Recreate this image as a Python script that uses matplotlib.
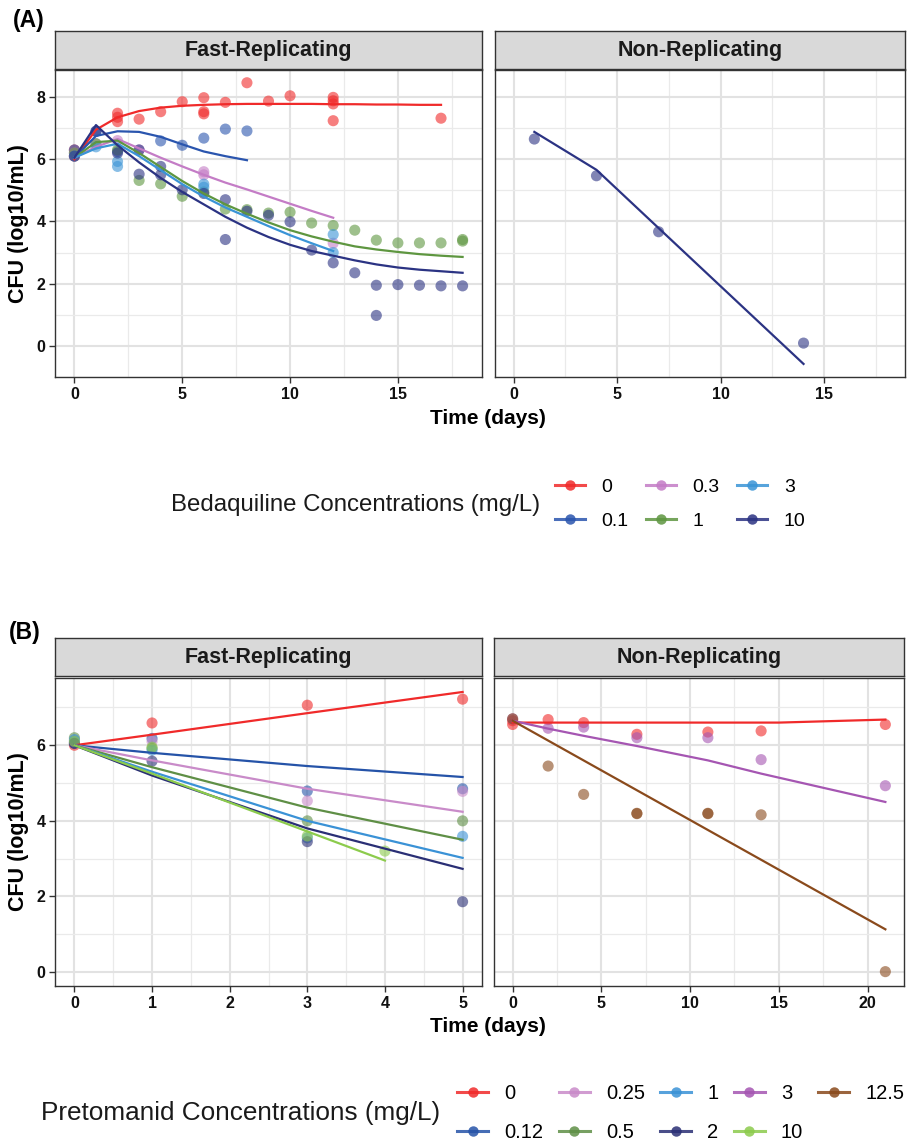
import matplotlib
matplotlib.use("Agg")
import matplotlib.pyplot as plt
from matplotlib.lines import Line2D

plt.rcParams['font.family'] = ['Liberation Sans', 'DejaVu Sans']

# ---------------- (A) Bedaquiline ----------------
bdq_conc = ["0", "0.1", "0.3", "1", "3", "10"]

# fast-replicating observations
bdq_fr_obs_days_0 = [0, 0, 2, 2, 2, 3, 4, 5, 6, 6, 6, 7, 8, 9, 10, 12, 12, 12, 12, 17]
bdq_fr_obs_cfu_0 = [6.1, 6.3, 7.48, 7.35, 7.21, 7.29, 7.53, 7.85, 7.98, 7.53, 7.46, 7.83, 8.46, 7.87, 8.04, 7.99, 7.88, 7.78, 7.24, 7.32]
bdq_fr_obs_days_01 = [0, 1, 2, 4, 5, 6, 7, 8]
bdq_fr_obs_cfu_01 = [6.3, 6.9, 6.25, 6.59, 6.45, 6.68, 6.97, 6.91]
bdq_fr_obs_days_03 = [0, 1, 2, 3, 6, 6, 12]
bdq_fr_obs_cfu_03 = [6.2, 6.5, 6.6, 6.3, 5.6, 5.5, 3.3]
bdq_fr_obs_days_1 = [0, 1, 2, 3, 4, 5, 6, 7, 8, 9, 10, 11, 12, 13, 14, 15, 16, 17, 18, 18]
bdq_fr_obs_cfu_1 = [6.2, 6.5, 6.3, 5.32, 5.21, 4.81, 4.95, 4.4, 4.38, 4.27, 4.3, 3.95, 3.87, 3.72, 3.4, 3.31, 3.31, 3.31, 3.37, 3.42]
bdq_fr_obs_days_3 = [0, 1, 2, 2, 6, 6, 12, 12]
bdq_fr_obs_cfu_3 = [6.1, 6.4, 5.93, 5.77, 5.2, 5.1, 3.58, 3.0]
bdq_fr_obs_days_10 = [0, 1, 2, 3, 3, 4, 4, 5, 6, 7, 7, 8, 9, 10, 11, 12, 13, 14, 14, 15, 16, 17, 18]
bdq_fr_obs_cfu_10 = [6.1, 6.9, 6.2, 6.3, 5.52, 5.77, 5.5, 5.02, 4.9, 4.7, 3.42, 4.33, 4.2, 3.99, 3.08, 2.67, 2.35, 1.95, 0.98, 1.97, 1.95, 1.93, 1.93]

# fast-replicating model predictions
bdq_fr_pred_days_0 = [0, 1, 2, 3, 4, 5, 6, 7, 8, 9, 10, 11, 12, 13, 14, 15, 16, 17]
bdq_fr_pred_cfu_0 = [6.0, 6.95, 7.35, 7.55, 7.66, 7.72, 7.75, 7.77, 7.78, 7.78, 7.78, 7.78, 7.77, 7.77, 7.76, 7.76, 7.75, 7.75]
bdq_fr_pred_days_01 = [0, 1, 2, 3, 4, 5, 6, 7, 8]
bdq_fr_pred_cfu_01 = [6.05, 6.75, 6.9, 6.88, 6.72, 6.48, 6.25, 6.1, 5.97]
bdq_fr_pred_days_03 = [0, 1, 2, 3, 4, 5, 6, 7, 8, 9, 10, 11, 12]
bdq_fr_pred_cfu_03 = [6.05, 6.4, 6.65, 6.35, 6.05, 5.77, 5.5, 5.25, 5.03, 4.8, 4.57, 4.34, 4.12]
bdq_fr_pred_days_1 = [0, 1, 2, 3, 4, 5, 6, 7, 8, 9, 10, 11, 12, 13, 14, 15, 16, 17, 18]
bdq_fr_pred_cfu_1 = [6.05, 6.55, 6.6, 6.2, 5.75, 5.3, 4.9, 4.55, 4.25, 3.97, 3.72, 3.52, 3.35, 3.2, 3.1, 3.02, 2.95, 2.9, 2.86]
bdq_fr_pred_days_3 = [0, 1, 2, 3, 4, 5, 6, 7, 8, 9, 10, 11, 12]
bdq_fr_pred_cfu_3 = [6.05, 6.35, 6.5, 6.1, 5.65, 5.2, 4.8, 4.45, 4.15, 3.85, 3.56, 3.3, 3.05]
bdq_fr_pred_days_10 = [0, 1, 2, 3, 4, 5, 6, 7, 8, 9, 10, 11, 12, 13, 14, 15, 16, 17, 18]
bdq_fr_pred_cfu_10 = [6.05, 7.1, 6.45, 5.9, 5.4, 4.95, 4.55, 4.15, 3.8, 3.5, 3.25, 3.05, 2.9, 2.75, 2.62, 2.52, 2.45, 2.4, 2.35]

# non-replicating (10 mg/L only)
bdq_nr_obs_days_10 = [1, 4, 7, 14]
bdq_nr_obs_cfu_10 = [6.65, 5.47, 3.67, 0.09]
bdq_nr_pred_days_10 = [1, 4, 14]
bdq_nr_pred_cfu_10 = [6.88, 5.66, -0.58]

# ---------------- (B) Pretomanid ----------------
pa_conc = ["0", "0.12", "0.25", "0.5", "1", "2", "3", "10", "12.5"]

pa_fr_obs_days = [0, 1, 3, 5]
pa_fr_obs_days_10 = [0, 1, 3, 4]
pa_fr_obs_cfu_0 = [6.0, 6.59, 7.06, 7.22]
pa_fr_obs_cfu_012 = [6.05, 6.18, 4.79, 4.85]
pa_fr_obs_cfu_025 = [6.1, 6.1, 4.53, 4.78]
pa_fr_obs_cfu_05 = [6.2, 5.92, 4.0, 4.0]
pa_fr_obs_cfu_1 = [6.15, 5.87, 3.55, 3.59]
pa_fr_obs_cfu_2 = [6.05, 5.58, 3.45, 1.86]
pa_fr_obs_cfu_10 = [6.1, 5.95, 3.6, 3.2]

pa_fr_pred_days = [0, 1, 3, 5]
pa_fr_pred_days_10 = [0, 1, 3, 4]
pa_fr_pred_cfu_0 = [6.0, 6.28, 6.85, 7.41]
pa_fr_pred_cfu_012 = [6.0, 5.8, 5.45, 5.16]
pa_fr_pred_cfu_025 = [6.0, 5.6, 4.85, 4.24]
pa_fr_pred_cfu_05 = [6.0, 5.42, 4.35, 3.5]
pa_fr_pred_cfu_1 = [6.0, 5.3, 4.0, 3.02]
pa_fr_pred_cfu_2 = [6.0, 5.2, 3.8, 2.73]
pa_fr_pred_cfu_10 = [6.0, 5.25, 3.72, 2.95]

pa_nr_obs_days_0 = [0, 0, 2, 4, 7, 11, 14, 21]
pa_nr_obs_cfu_0 = [6.55, 6.65, 6.68, 6.6, 6.29, 6.35, 6.38, 6.55]
pa_nr_obs_days_3 = [0, 2, 4, 7, 11, 14, 21]
pa_nr_obs_cfu_3 = [6.7, 6.45, 6.48, 6.2, 6.2, 5.62, 4.93]
pa_nr_obs_days_125 = [0, 2, 4, 7, 7, 11, 11, 14, 21]
pa_nr_obs_cfu_125 = [6.7, 5.45, 4.7, 4.19, 4.2, 4.19, 4.2, 4.16, 0.01]

pa_nr_pred_days_0 = [0, 7, 15, 21]
pa_nr_pred_cfu_0 = [6.6, 6.6, 6.6, 6.68]
pa_nr_pred_days_3 = [0, 2, 4, 7, 11, 14, 21]
pa_nr_pred_cfu_3 = [6.65, 6.44, 6.25, 5.98, 5.6, 5.25, 4.5]
pa_nr_pred_days_125 = [0, 21]
pa_nr_pred_cfu_125 = [6.65, 1.13]

# colours
bdq_colors = ["#F02A2A", "#2A55AE", "#C47CC6", "#5E9640", "#3A94D6", "#2B3383"]
pa_colors = ["#F02A2A", "#2553A8", "#C98BC9", "#5F8F46", "#3A92D6", "#2A2F75",
             "#A556B2", "#8CCB4C", "#8A4A1C"]

W, H = 921, 1142
fig = plt.figure(figsize=(W / 100, H / 100), dpi=100)


def box(x0, y0, x1, y1):
    return fig.add_axes([x0 / W, 1 - y1 / H, (x1 - x0) / W, (y1 - y0) / H])


def strip(x0, y0, x1, y1, label):
    s = box(x0, y0, x1, y1)
    s.set_facecolor("#D9D9D9")
    s.set_xticks([])
    s.set_yticks([])
    for sp in s.spines.values():
        sp.set_color("#333333")
        sp.set_linewidth(1.0)
    s.text(0.5, 0.48, label, ha="center", va="center", fontsize=15.5,
           fontweight="bold", color="#1A1A1A", transform=s.transAxes)


def style(ax, xlim, ylim, xmaj, xmin, ymaj, ymin, left):
    ax.set_xlim(xlim)
    ax.set_ylim(ylim)
    ax.set_xticks(xmaj)
    ax.set_xticks(xmin, minor=True)
    ax.set_yticks(ymaj)
    ax.set_yticks(ymin, minor=True)
    ax.grid(which="major", color="#E2E2E2", linewidth=1.5, zorder=0)
    ax.grid(which="minor", color="#EAEAEA", linewidth=0.9, zorder=0)
    ax.set_axisbelow(True)
    for sp in ax.spines.values():
        sp.set_color("#333333")
        sp.set_linewidth(1.0)
    ax.tick_params(which="minor", length=0)
    ax.tick_params(which="major", length=4, width=1, color="#333333",
                   labelsize=11.5, pad=3)
    for lab in ax.get_xticklabels() + ax.get_yticklabels():
        lab.set_fontweight("bold")
        lab.set_color("#111111")
    if not left:
        ax.tick_params(axis="y", left=False, labelleft=False)


def draw(ax, days, cfu, pdays, pcfu, color):
    ax.scatter(days, cfu, s=64, color=color, alpha=0.6, edgecolors="none", zorder=3)
    ax.plot(pdays, pcfu, color=color, linewidth=1.6, zorder=4)


# ---- panel A ----
a_xlim = (-0.9, 18.9)
a_ylim = (-1.0, 8.87)
a_ymaj = [0, 2, 4, 6, 8]
a_ymin = [-1, 1, 3, 5, 7]
a_xmaj = [0, 5, 10, 15]
a_xmin = [2.5, 7.5, 12.5, 17.5]

ax1 = box(55, 70, 482, 377)
ax2 = box(495, 70, 905, 377)
strip(55, 31, 482, 69, "Fast-Replicating")
strip(495, 31, 905, 69, "Non-Replicating")

bdq_fr = [
    (bdq_fr_obs_days_0, bdq_fr_obs_cfu_0, bdq_fr_pred_days_0, bdq_fr_pred_cfu_0),
    (bdq_fr_obs_days_01, bdq_fr_obs_cfu_01, bdq_fr_pred_days_01, bdq_fr_pred_cfu_01),
    (bdq_fr_obs_days_03, bdq_fr_obs_cfu_03, bdq_fr_pred_days_03, bdq_fr_pred_cfu_03),
    (bdq_fr_obs_days_1, bdq_fr_obs_cfu_1, bdq_fr_pred_days_1, bdq_fr_pred_cfu_1),
    (bdq_fr_obs_days_3, bdq_fr_obs_cfu_3, bdq_fr_pred_days_3, bdq_fr_pred_cfu_3),
    (bdq_fr_obs_days_10, bdq_fr_obs_cfu_10, bdq_fr_pred_days_10, bdq_fr_pred_cfu_10),
]
for (d, c, pd, pc), col in zip(bdq_fr, bdq_colors):
    draw(ax1, d, c, pd, pc, col)
draw(ax2, bdq_nr_obs_days_10, bdq_nr_obs_cfu_10, bdq_nr_pred_days_10,
     bdq_nr_pred_cfu_10, bdq_colors[5])

style(ax1, a_xlim, a_ylim, a_xmaj, a_xmin, a_ymaj, a_ymin, True)
style(ax2, a_xlim, a_ylim, a_xmaj, a_xmin, a_ymaj, a_ymin, False)
ax1.set_ylabel("CFU (log10/mL)", fontsize=15.5, fontweight="bold", labelpad=5)

fig.text(13 / W, 1 - 20 / H, "(A)", fontsize=16.5, fontweight="bold", va="center")
fig.text(488 / W, 1 - 419 / H, "Time (days)", fontsize=15, fontweight="bold",
         ha="center", va="center")

# ---- panel B ----
b_ylim = (-0.37, 7.78)
b_ymaj = [0, 2, 4, 6]
b_ymin = [1, 3, 5, 7]

ax3 = box(55, 678, 482, 986)
ax4 = box(494, 678, 904, 986)
strip(55, 638, 482, 676, "Fast-Replicating")
strip(494, 638, 904, 676, "Non-Replicating")

pa_fr = [
    (pa_fr_obs_days, pa_fr_obs_cfu_0, pa_fr_pred_days, pa_fr_pred_cfu_0, 0),
    (pa_fr_obs_days, pa_fr_obs_cfu_012, pa_fr_pred_days, pa_fr_pred_cfu_012, 1),
    (pa_fr_obs_days, pa_fr_obs_cfu_025, pa_fr_pred_days, pa_fr_pred_cfu_025, 2),
    (pa_fr_obs_days, pa_fr_obs_cfu_05, pa_fr_pred_days, pa_fr_pred_cfu_05, 3),
    (pa_fr_obs_days, pa_fr_obs_cfu_1, pa_fr_pred_days, pa_fr_pred_cfu_1, 4),
    (pa_fr_obs_days, pa_fr_obs_cfu_2, pa_fr_pred_days, pa_fr_pred_cfu_2, 5),
    (pa_fr_obs_days_10, pa_fr_obs_cfu_10, pa_fr_pred_days_10, pa_fr_pred_cfu_10, 7),
]
for d, c, pd, pc, i in pa_fr:
    draw(ax3, d, c, pd, pc, pa_colors[i])

pa_nr = [
    (pa_nr_obs_days_0, pa_nr_obs_cfu_0, pa_nr_pred_days_0, pa_nr_pred_cfu_0, 0),
    (pa_nr_obs_days_3, pa_nr_obs_cfu_3, pa_nr_pred_days_3, pa_nr_pred_cfu_3, 6),
    (pa_nr_obs_days_125, pa_nr_obs_cfu_125, pa_nr_pred_days_125, pa_nr_pred_cfu_125, 8),
]
for d, c, pd, pc, i in pa_nr:
    draw(ax4, d, c, pd, pc, pa_colors[i])

style(ax3, (-0.25, 5.25), b_ylim, [0, 1, 2, 3, 4, 5],
      [0.5, 1.5, 2.5, 3.5, 4.5], b_ymaj, b_ymin, True)
style(ax4, (-1.05, 22.05), b_ylim, [0, 5, 10, 15, 20],
      [2.5, 7.5, 12.5, 17.5], b_ymaj, b_ymin, False)
ax3.set_ylabel("CFU (log10/mL)", fontsize=15.5, fontweight="bold", labelpad=5)

fig.text(9 / W, 1 - 632 / H, "(B)", fontsize=16.5, fontweight="bold", va="center")
fig.text(488 / W, 1 - 1027 / H, "Time (days)", fontsize=15, fontweight="bold",
         ha="center", va="center")


# ---- legends ----
def handles(colors):
    return [Line2D([0], [0], color=c, linewidth=2.2, marker="o", markersize=7.5,
                   markeredgewidth=0, alpha=0.85) for c in colors]


fig.text(540 / W, 1 - 505 / H, "Bedaquiline Concentrations (mg/L)", fontsize=17.3,
         ha="right", va="center", color="#1A1A1A")
fig.legend(handles(bdq_colors), bdq_conc, ncol=3, frameon=False,
           loc="center left", bbox_to_anchor=(537 / W, 1 - 504 / H),
           fontsize=14, handlelength=1.55, handletextpad=0.85,
           columnspacing=0.9, labelspacing=0.85)

fig.text(440 / W, 1 - 1113 / H, "Pretomanid Concentrations (mg/L)", fontsize=18.8,
         ha="right", va="center", color="#1A1A1A")
fig.legend(handles(pa_colors), pa_conc, ncol=5, frameon=False,
           loc="center left", bbox_to_anchor=(439 / W, 1 - 1113 / H),
           fontsize=14.5, handlelength=1.55, handletextpad=0.8,
           columnspacing=0.75, labelspacing=0.95)

fig.savefig("out.png", dpi=100)
